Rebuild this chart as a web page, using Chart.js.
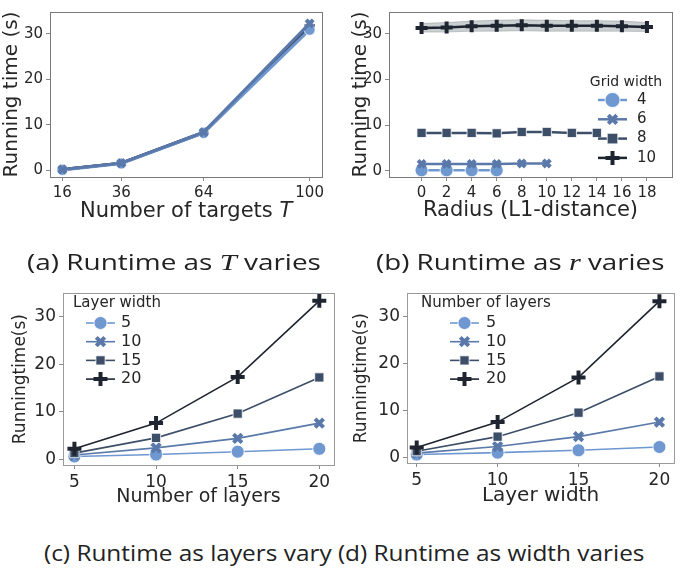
<!DOCTYPE html>
<html>
<head>
<meta charset="utf-8">
<script src="https://cdn.jsdelivr.net/npm/chart.js@4/dist/chart.umd.min.js"></script>
<style>
  body { margin: 0; background: #fff; }
  #wrap { position: relative; width: 685px; height: 568px; overflow: hidden; }
  canvas { position: absolute; }
  .cap { position: absolute; font-family: "Open Sans", Lato, sans-serif; font-size: 21px; color: #222; white-space: nowrap; line-height: 24px; transform-origin: 0 50%; }
  .cap i { font-family: "Liberation Serif", "DejaVu Serif", serif; font-style: italic; font-size: 23px; }
  .xt { position: absolute; font-family: "DejaVu Sans", sans-serif; font-size: 21px; color: #262626; white-space: nowrap; line-height: 24px; }
  .xt i { font-style: oblique; }
</style>
</head>
<body>
<div id="wrap">
  <canvas id="chartA" width="340" height="230" style="left:0;top:0"></canvas>
  <canvas id="chartB" width="345" height="230" style="left:340px;top:0"></canvas>
  <canvas id="chartC" width="345" height="230" style="left:0;top:280px"></canvas>
  <canvas id="chartD" width="345" height="230" style="left:340px;top:280px"></canvas>
  <div class="xt" style="left:80px;top:198px">Number of targets <i>T</i></div>
  <div class="cap" data-w="294" style="left:27px;top:250px">(a) Runtime as <i>T</i> varies</div>
  <div class="cap" data-w="288" style="left:376px;top:250px">(b) Runtime as <i>r</i> varies</div>
  <div class="cap" data-w="600" style="left:44px;top:541px">(c) Runtime as layers vary (d) Runtime as width varies</div>
</div>
<script>
// ---- data: panel (a) runtime vs number of targets
const targets = [16, 36, 64, 100];
const targetTicks = [16, 36, 64, 100];
const aSeries1 = [0.1, 1.5, 8.2, 30.9];
const aSeries2 = [0.2, 1.6, 8.4, 32.3];
const aSeries3 = [0.2, 1.6, 8.4, 31.4];
const aSeries4 = [0.2, 1.6, 8.3, 31.7];

// ---- panel (b) runtime vs radius, per grid width
const gridWidths = ['4', '6', '8', '10'];
const radius4 = [0, 2, 4, 6];
const time4 = [0.1, 0.1, 0.1, 0.1];
const radius6 = [0, 2, 4, 6, 8, 10];
const time6 = [1.5, 1.5, 1.5, 1.5, 1.6, 1.6];
const radius8 = [0, 2, 4, 6, 8, 10, 12, 14];
const time8 = [8.3, 8.3, 8.3, 8.2, 8.5, 8.5, 8.3, 8.3];
const radius10 = [0, 2, 4, 6, 8, 10, 12, 14, 16, 18];
const time10 = [31.3, 31.4, 31.7, 31.8, 31.9, 31.8, 31.8, 31.8, 31.7, 31.5];
const time10Upper = [32.3, 32.5, 32.8, 33.0, 33.1, 33.0, 32.9, 32.9, 32.8, 32.5];
const time10Lower = [30.4, 30.4, 30.6, 30.6, 30.7, 30.6, 30.6, 30.6, 30.6, 30.5];
const radiusTicks = [0, 2, 4, 6, 8, 10, 12, 14, 16, 18];

// ---- panel (c) runtime vs number of layers, per layer width
const layers = [5, 10, 15, 20];
const layerWidths = ['5', '10', '15', '20'];
const cWidth5 = [0.6, 1.0, 1.6, 2.2];
const cWidth10 = [0.9, 2.4, 4.4, 7.6];
const cWidth15 = [1.3, 4.5, 9.6, 17.2];
const cWidth20 = [2.2, 7.6, 17.3, 33.3];

// ---- panel (d) runtime vs layer width, per number of layers
const widths = [5, 10, 15, 20];
const layerCounts = ['5', '10', '15', '20'];
const dLayers5 = [0.6, 1.0, 1.5, 2.2];
const dLayers10 = [0.9, 2.3, 4.4, 7.5];
const dLayers15 = [1.3, 4.4, 9.5, 17.2];
const dLayers20 = [2.1, 7.5, 17.0, 33.2];

const runTicks = [0, 10, 20, 30];

const colors = ['#6f97d0', '#5a79aa', '#3d4e68', '#1f2530'];
const markers = ['circle', 'crossRot', 'rect', 'cross'];

// stretch captions to the width they have in the figure
document.querySelectorAll('.cap').forEach(el => {
  el.style.transform = 'scaleX(' + (el.dataset.w / el.offsetWidth) + ')';
});

function pts(xs, ys) {
  return xs.map((x, i) => ({ x: x, y: ys[i] }));
}

function series(label, xs, ys, idx, lw, r) {
  const isLine = markers[idx] === 'cross' || markers[idx] === 'crossRot';
  return {
    label: label,
    data: pts(xs, ys),
    borderColor: colors[idx],
    backgroundColor: colors[idx],
    borderWidth: lw,
    pointStyle: markers[idx],
    pointRadius: isLine ? r : r + 0.5,
    pointBackgroundColor: colors[idx],
    pointBorderColor: isLine ? colors[idx] : 'rgba(255,255,255,0.8)',
    pointBorderWidth: isLine ? 4 : 1,
    order: 3 - idx,
    fill: false
  };
}

// box around plot area
const frame = {
  id: 'frame',
  afterDraw(chart, args, opts) {
    const a = chart.chartArea;
    const ctx = chart.ctx;
    ctx.save();
    ctx.strokeStyle = opts.color || '#8a8a8a';
    ctx.lineWidth = 1;
    ctx.strokeRect(Math.round(a.left) + 0.5, Math.round(a.top) + 0.5,
      Math.round(a.right - a.left), Math.round(a.bottom - a.top));
    ctx.restore();
  }
};

// seaborn-like legend: line through marker, then label
const lineLegend = {
  id: 'lineLegend',
  afterDraw(chart, args, opts) {
    if (!opts.title) return;
    const ctx = chart.ctx;
    ctx.save();
    ctx.textBaseline = 'middle';
    ctx.textAlign = opts.titleAlign || 'left';
    ctx.fillStyle = '#262626';
    ctx.font = opts.titleFont;
    ctx.fillText(opts.title, opts.titleX, opts.titleY);
    ctx.textAlign = 'left';
    ctx.font = opts.font;
    let row = 0;
    chart.data.datasets.forEach(ds => {
      if (!ds.label) return;
      const y = opts.y + row * opts.step;
      row++;
      ctx.strokeStyle = ds.borderColor;
      ctx.lineWidth = ds.borderWidth;
      ctx.beginPath();
      ctx.moveTo(opts.x, y);
      ctx.lineTo(opts.x + opts.lineLen, y);
      ctx.stroke();
      ctx.fillStyle = ds.pointBackgroundColor;
      ctx.strokeStyle = ds.pointBorderColor;
      ctx.lineWidth = ds.pointBorderWidth;
      Chart.helpers.drawPoint(ctx, {
        pointStyle: ds.pointStyle, radius: ds.pointRadius + opts.grow,
        borderWidth: ds.pointBorderWidth, rotation: 0
      }, opts.x + opts.lineLen / 2, y);
      ctx.fillStyle = '#262626';
      ctx.fillText(ds.label, opts.x + opts.lineLen + opts.gap, y);
    });
    ctx.restore();
  }
};

function axes(cfg) {
  const tickFont = { family: 'DejaVu Sans', size: cfg.tickSize };
  return {
    x: {
      type: 'linear', min: cfg.xMin, max: cfg.xMax,
      afterBuildTicks: s => { s.ticks = cfg.xTicks.map(v => ({ value: v })); },
      afterFit: s => { s.height = cfg.xH; },
      grid: { display: true, drawOnChartArea: false, drawTicks: true, tickLength: 4, color: '#8a8a8a' },
      border: { display: false },
      ticks: { font: tickFont, color: '#262626', padding: 3, maxRotation: 0, autoSkip: false },
      title: { display: !!cfg.xTitle, text: cfg.xTitle, font: { family: 'DejaVu Sans', size: cfg.xTitleSize },
        color: '#262626', padding: { top: 0, bottom: cfg.xTitlePad } }
    },
    y: {
      type: 'linear', min: cfg.yMin, max: cfg.yMax,
      afterBuildTicks: s => { s.ticks = runTicks.map(v => ({ value: v })); },
      afterFit: s => { s.width = cfg.yW; },
      grid: { display: true, drawOnChartArea: false, drawTicks: true, tickLength: 4, color: '#8a8a8a' },
      border: { display: false },
      ticks: { font: tickFont, color: '#262626', padding: 3 },
      title: { display: true, text: cfg.yTitle, font: { family: 'DejaVu Sans', size: cfg.yTitleSize },
        color: '#262626', padding: { top: cfg.yTitlePad, bottom: 0 } }
    }
  };
}

function makeChart(id, datasets, cfg, legend) {
  return new Chart(document.getElementById(id), {
    type: 'line',
    data: { datasets: datasets },
    options: {
      responsive: false,
      animation: false,
      devicePixelRatio: 1,
      layout: { padding: cfg.pad },
      scales: axes(cfg),
      plugins: {
        legend: { display: false },
        tooltip: { enabled: false },
        frame: { color: cfg.frameColor },
        lineLegend: legend || {}
      },
      elements: { line: { tension: 0 } }
    },
    plugins: [frame, lineLegend]
  });
}

// (a) four nearly overlapping runs, blue drawn over dark
const aData = [aSeries1, aSeries2, aSeries3, aSeries4].map((ys, i) => {
  const d = series('', targets, ys, i, 3, 5);
  d.order = [1, 0, 2, 3][i];
  return d;
});
makeChart('chartA', aData, {
  xMin: 11.8, xMax: 104.2, xTicks: targetTicks, yMin: -1.45, yMax: 34.8,
  xH: 53, yW: 50, tickSize: 15, xTitleSize: 21, yTitleSize: 20, xTitle: '', xTitlePad: 8,
  yTitle: 'Running time (s)', yTitlePad: 0,
  pad: { left: 0, right: 18, top: 2, bottom: 0 }, frameColor: '#7a7a7a'
});

// (b)
const bData = [
  series(gridWidths[0], radius4, time4, 0, 2.5, 6),
  series(gridWidths[1], radius6, time6, 1, 2.5, 5),
  series(gridWidths[2], radius8, time8, 2, 2.5, 6),
  series(gridWidths[3], radius10, time10, 3, 2.5, 6),
  { label: '', data: pts(radius10, time10Upper), borderWidth: 0.6, borderColor: 'rgba(90,90,90,0.5)',
    pointRadius: 0, fill: '+1', backgroundColor: 'rgba(150,160,165,0.5)', order: 10 },
  { label: '', data: pts(radius10, time10Lower), borderWidth: 0.6, borderColor: 'rgba(90,90,90,0.5)',
    pointRadius: 0, fill: false, order: 11 }
];
makeChart('chartB', bData, {
  xMin: -2.6, xMax: 20, xTicks: radiusTicks, yMin: -1.37, yMax: 34.8,
  xH: 53, yW: 49, tickSize: 15, xTitleSize: 21, yTitleSize: 20, xTitle: 'Radius (L1-distance)', xTitlePad: 7,
  yTitle: 'Running time (s)', yTitlePad: 9,
  pad: { left: 0, right: 13, top: 0, bottom: 0 }, frameColor: '#7a7a7a'
}, {
  title: 'Grid width', titleFont: '14px "DejaVu Sans"', titleX: 286, titleY: 82, titleAlign: 'center',
  font: '15px "DejaVu Sans"', x: 258, y: 100, step: 19.3, lineLen: 29, gap: 10, grow: 1
});

// (c)
const cData = [
  series(layerWidths[0], layers, cWidth5, 0, 1.6, 6),
  series(layerWidths[1], layers, cWidth10, 1, 1.6, 6),
  series(layerWidths[2], layers, cWidth15, 2, 1.6, 6),
  series(layerWidths[3], layers, cWidth20, 3, 1.6, 7)
];
makeChart('chartC', cData, {
  xMin: 4.3, xMax: 20.9, xTicks: layers, yMin: -1.2, yMax: 34.9,
  xH: 45, yW: 63, tickSize: 17, xTitleSize: 19, yTitleSize: 17, xTitle: 'Number of layers', xTitlePad: 2,
  yTitle: 'Runningtime(s)', yTitlePad: 10,
  pad: { left: 0, right: 5, top: 5, bottom: 0 }, frameColor: '#9a9a9a'
}, {
  title: 'Layer width', titleFont: '15px "DejaVu Sans"', titleX: 73, titleY: 23, titleAlign: 'left',
  font: '16px "DejaVu Sans"', x: 86, y: 43, step: 18.7, lineLen: 29, gap: 6, grow: 0
});

// (d)
const dData = [
  series(layerCounts[0], widths, dLayers5, 0, 1.6, 6),
  series(layerCounts[1], widths, dLayers10, 1, 1.6, 6),
  series(layerCounts[2], widths, dLayers15, 2, 1.6, 6),
  series(layerCounts[3], widths, dLayers20, 3, 1.6, 7)
];
makeChart('chartD', dData, {
  xMin: 4.4, xMax: 20.9, xTicks: widths, yMin: -1.2, yMax: 34.9,
  xH: 47, yW: 67, tickSize: 17, xTitleSize: 20, yTitleSize: 17, xTitle: 'Layer width', xTitlePad: 2,
  yTitle: 'Runningtime(s)', yTitlePad: 11,
  pad: { left: 0, right: 2, top: 5, bottom: 0 }, frameColor: '#9a9a9a'
}, {
  title: 'Number of layers', titleFont: '15px "DejaVu Sans"', titleX: 81, titleY: 23, titleAlign: 'left',
  font: '16px "DejaVu Sans"', x: 110, y: 43, step: 18.7, lineLen: 29, gap: 7, grow: 0
});
</script>
</body>
</html>
